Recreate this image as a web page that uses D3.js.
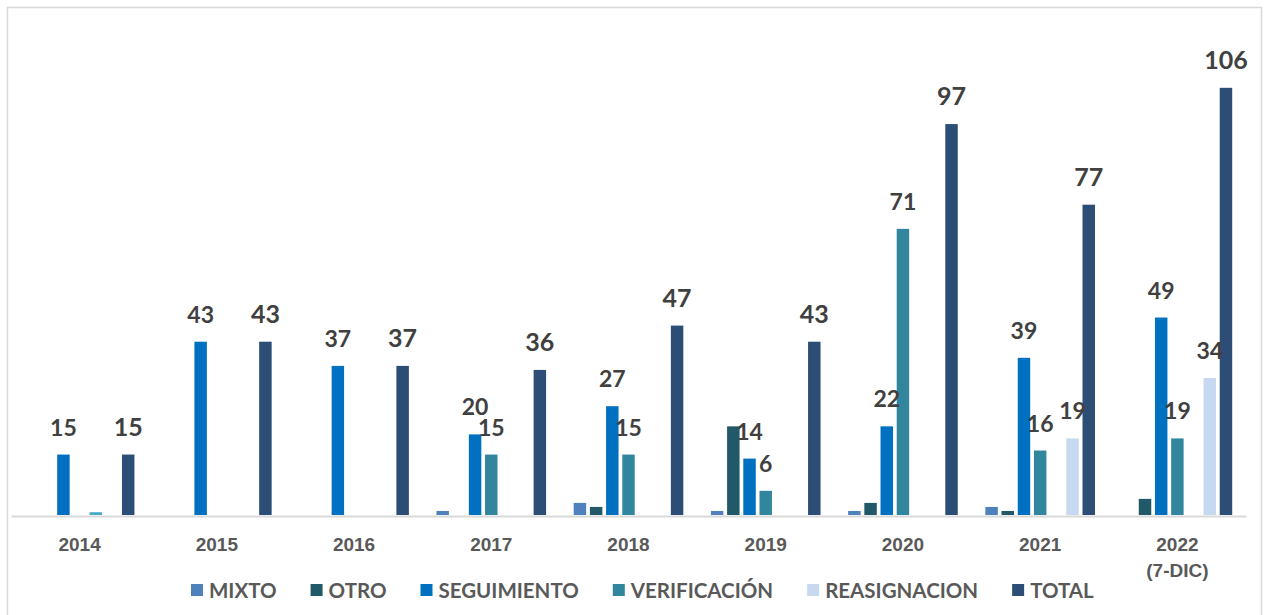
<!DOCTYPE html>
<html>
<head>
<meta charset="utf-8">
<script src="https://cdn.jsdelivr.net/npm/d3@7"></script>
<style>
  html, body { margin: 0; padding: 0; background: #fff; }
  svg { display: block; font-family: Lato, "Open Sans", sans-serif; }
</style>
</head>
<body>
<div id="chart"></div>
<script>
// data
const years = ['2014', '2015', '2016', '2017', '2018', '2019', '2020', '2021', '2022'];
const yearLabels = [['2014'], ['2015'], ['2016'], ['2017'], ['2018'], ['2019'], ['2020'], ['2021'], ['2022', '(7-DIC)']];

const mixto        = [0, 0, 0, 1, 3, 1, 1, 2, 0];
const otro         = [0, 0, 0, 0, 2, 22, 3, 1, 4];
const seguimiento  = [15, 43, 37, 20, 27, 14, 22, 39, 49];
const verificacion = [0, 0, 0, 15, 15, 6, 71, 16, 19];
const sinLeyenda   = [0.7, 0, 0, 0, 0, 0, 0, 0, 0];   // series with no legend entry
const reasignacion = [0, 0, 0, 0, 0, 0, 0, 19, 34];
const total        = [15, 43, 37, 36, 47, 43, 97, 77, 106];

const series = [
  { key: 'MIXTO', values: mixto, color: '#4f81bd', legend: true, label: false },
  { key: 'OTRO', values: otro, color: '#215968', legend: true, label: false },
  { key: 'SEGUIMIENTO', values: seguimiento, color: '#0070c0', legend: true, label: true },
  { key: 'VERIFICACIÓN', values: verificacion, color: '#31859c', legend: true, label: true },
  { key: 'OTROS', values: sinLeyenda, color: '#4bacc6', legend: false, label: false },
  { key: 'REASIGNACION', values: reasignacion, color: '#c6d9f1', legend: true, label: true },
  { key: 'TOTAL', values: total, color: '#2c4d75', legend: true, label: true, big: true }
];

const width = 1264;
const height = 615;
const baseY = 515;

const svg = d3.select('#chart')
  .append('svg')
  .attr('width', width)
  .attr('height', height);

// outer frame
svg.append('rect')
  .attr('x', 7.5)
  .attr('y', 7.5)
  .attr('width', 1254)
  .attr('height', 700)
  .attr('fill', '#fff')
  .attr('stroke', '#d9d9d9')
  .attr('stroke-width', 1.5);

const x0 = d3.scaleBand()
  .domain(years)
  .range([11, 1246])
  .paddingInner(0.174)
  .paddingOuter(0.087);

const x1 = d3.scaleBand()
  .domain(series.map(s => s.key))
  .range([0, x0.bandwidth()])
  .paddingInner(0.23)
  .paddingOuter(0.115);

const y = d3.scaleLinear()
  .domain([0, 120])
  .range([baseY, baseY - 120 * 4.03]);

// bars
const groups = svg.selectAll('g.year')
  .data(years)
  .enter().append('g')
  .attr('class', 'year')
  .attr('transform', d => `translate(${x0(d)},0)`);

groups.selectAll('rect')
  .data((d, i) => series.map(s => ({ key: s.key, color: s.color, value: s.values[i] })).filter(d => d.value > 0))
  .enter().append('rect')
  .attr('x', d => x1(d.key))
  .attr('y', d => y(d.value))
  .attr('width', x1.bandwidth())
  .attr('height', d => baseY - y(d.value))
  .attr('fill', d => d.color);

// x axis
const xAxis = svg.append('g')
  .attr('transform', `translate(0,${baseY + 1})`)
  .call(d3.axisBottom(x0).tickSize(0).tickPadding(0));

xAxis.select('.domain')
  .attr('stroke', '#d9d9d9')
  .attr('stroke-width', 2);

xAxis.selectAll('.tick text')
  .attr('y', 0)
  .attr('dy', null)
  .text(null)
  .style('font-size', '19px')
  .style('font-weight', 'bold')
  .attr('fill', '#595959')
  .each(function (d, i) {
    d3.select(this).selectAll('tspan')
      .data(yearLabels[i])
      .enter().append('tspan')
      .attr('x', 0)
      .attr('y', (t, j) => 35 + j * 26)
      .text(t => t);
  });

// value labels
groups.selectAll('text.value')
  .data((d, i) => series.filter(s => s.label && s.values[i] >= 2)
    .map(s => ({ key: s.key, big: s.big, value: s.values[i] })))
  .enter().append('text')
  .attr('class', 'value')
  .attr('x', d => x1(d.key) + x1.bandwidth() / 2)
  .attr('y', d => y(d.value) - 19)
  .attr('text-anchor', 'middle')
  .attr('fill', '#404040')
  .style('font-size', d => d.big ? '25px' : '23px')
  .style('font-weight', 'bold')
  .text(d => d.value);

// legend
const legend = svg.append('g')
  .attr('transform', 'translate(191,590)');

let lx = 0;
series.filter(s => s.legend).forEach(s => {
  const item = legend.append('g').attr('transform', `translate(${lx},0)`);
  item.append('rect')
    .attr('x', 0)
    .attr('y', -6)
    .attr('width', 12)
    .attr('height', 12)
    .attr('fill', s.color);
  const t = item.append('text')
    .attr('x', 18)
    .attr('y', 7.5)
    .attr('fill', '#595959')
    .style('font-size', '20.5px')
    .style('font-weight', 'bold')
    .text(s.key);
  lx += 18 + t.node().getComputedTextLength() + 34;
});
</script>
</body>
</html>
